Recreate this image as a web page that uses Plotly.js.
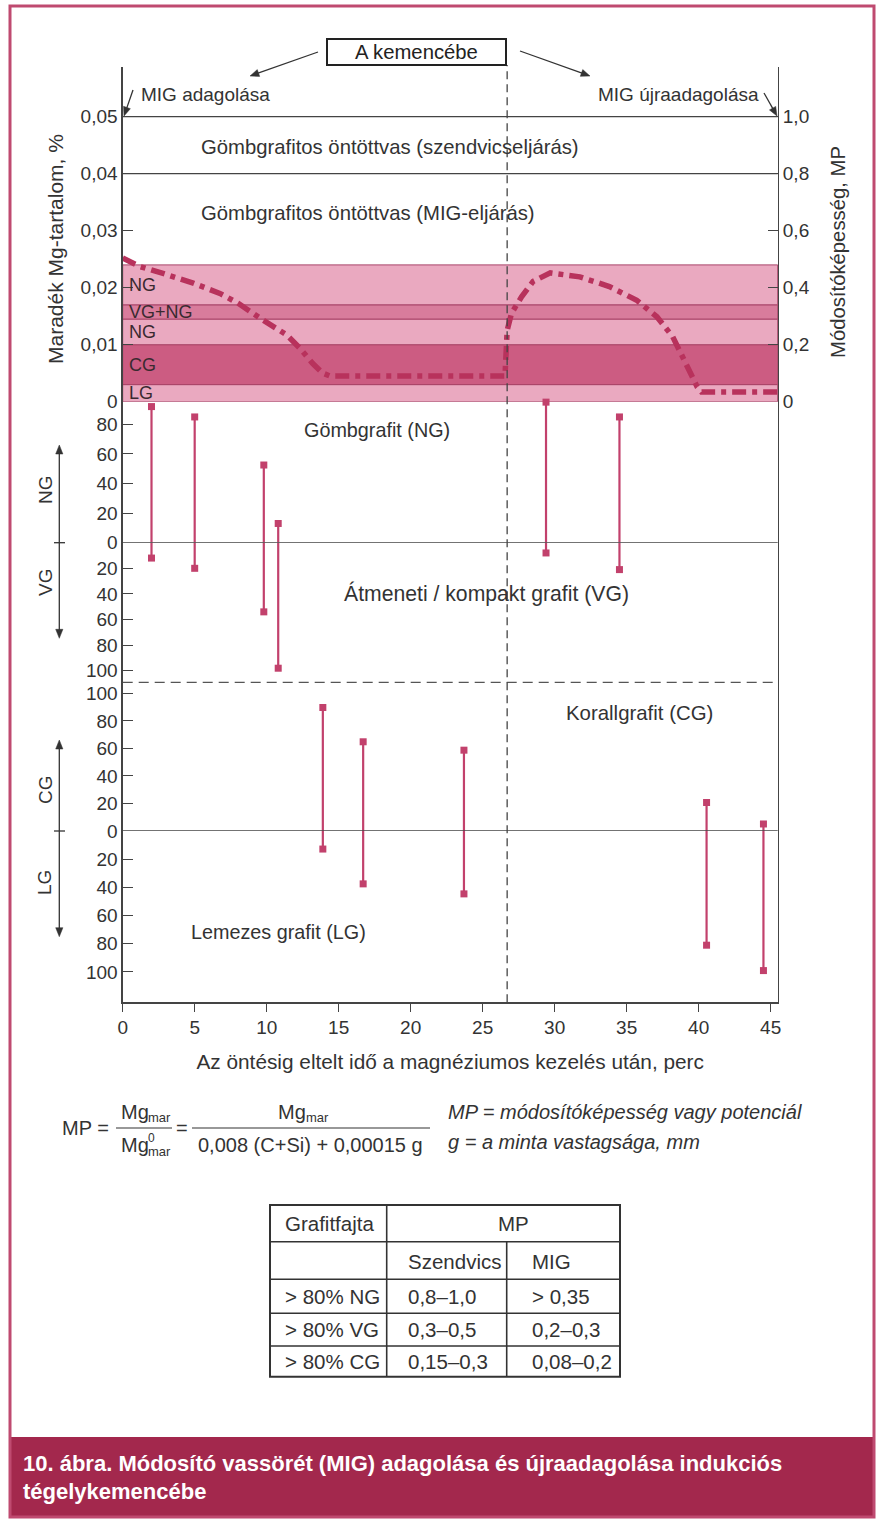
<!DOCTYPE html>
<html><head><meta charset="utf-8">
<script src="https://cdn.plot.ly/plotly-3.0.1.min.js"></script>
<style>html,body{margin:0;padding:0;background:#fff}#chart{width:881px;height:1520px}</style>
</head><body><div id="chart"></div>
<script>
// ---------- DATA ----------
const xTicks = [0,5,10,15,20,25,30,35,40,45];
const mgTickVals = [0,0.01,0.02,0.03,0.04,0.05];
const mgTickText = ['0','0,01','0,02','0,03','0,04','0,05'];
const mpTickVals = [0,0.2,0.4,0.6,0.8,1.0];
const mpTickText = ['0','0,2','0,4','0,6','0,8','1,0'];
const pctTicksUp = [0,20,40,60,80];
const pctTicksUp2 = [0,20,40,60,80,100];
const pctTicksDown = [20,40,60,80,100];

const levelSzendvics = 0.05;   // upper limit lines
const levelMIG = 0.04;
const reAddTime = 26.7;        // MIG re-addition (vertical dashed)

const bandEdges = [0,0.003,0.01,0.0145,0.017,0.024];
const bandLabels = ['LG','CG','NG','VG+NG','NG'];

const curveTime = [0,1.2,2.8,4.9,6.75,8.0,9.75,11.4,12.3,13.2,13.9,14.4,26.55,26.6,26.7,27.0,27.7,28.5,29.7,31.75,33.8,35.7,37.1,38.2,38.7,39.2,39.9,40.2,45.45];
const curveMg   = [0.0252,0.0237,0.0225,0.0208,0.0190,0.0173,0.0143,0.0117,0.0094,0.0067,0.0050,0.0045,0.0045,0.0080,0.0125,0.0155,0.0184,0.0211,0.0226,0.0219,0.0202,0.0178,0.0149,0.0114,0.0088,0.0061,0.0026,0.0017,0.0017];

// NG / VG panel (percent)
const midTime = [2.0,5.0,9.8,10.8,29.4,34.5];
const midNG   = [92,85,52.5,13,95,85];
const midVG   = [12,20,54,98,8,21];
// CG / LG panel (percent)
const botTime = [13.9,16.7,23.7,40.55,44.5];
const botCG   = [89.7,64.8,58.7,20.7,5.1];
const botLG   = [12.8,37.5,44.6,81,99];

const tableHead = ['Grafitfajta','MP'];
const tableSubHead = ['','Szendvics','MIG'];
const graphiteTypes = ['> 80% NG','> 80% VG','> 80% CG'];
const mpSzendvics = ['0,8–1,0','0,3–0,5','0,15–0,3'];
const mpMIG = ['> 0,35','0,2–0,3','0,08–0,2'];

// ---------- STYLE / LAYOUT HELPERS ----------
const W = 881, H = 1520;
const X = p => p / W;
const Y = p => 1 - p / H;
const FONT = 'Liberation Sans, Arial, sans-serif';
const TXT = '#333';
const CRIMSON = '#b8325c';
const BAR = '#c2416c';
const bandColors = ['#eaa9c0','#cc5c82','#eaa9c0','#d87c9c','#eaa9c0'];
const RS = 20.3; // region text size

function stems(xs, vs, yax){
  const x=[], y=[];
  xs.forEach((t,i)=>{ x.push(t,t,null); y.push(0,vs[i],null); });
  return [
    {x:x, y:y, yaxis:yax, mode:'lines', line:{color:BAR, width:2.2}, hoverinfo:'skip', cliponaxis:false},
    {x:xs, y:vs, yaxis:yax, mode:'markers', marker:{symbol:'square', size:7, color:BAR}, cliponaxis:false}
  ];
}

const traces = [];
traces.push({x:curveTime, y:curveMg, yaxis:'y', mode:'lines',
  line:{color:CRIMSON, width:5.5, dash:'14px,6px,5px,6px'}, cliponaxis:false});
traces.push({x:[null], y:[null], yaxis:'y2', mode:'lines', showlegend:false});
traces.push(...stems(midTime, midNG, 'y3'));
traces.push(...stems(midTime, midVG, 'y4'));
traces.push(...stems(botTime, botCG, 'y5'));
traces.push(...stems(botTime, botLG, 'y6'));

const axBase = {showline:true, linecolor:'#444', linewidth:1.3, showgrid:false, zeroline:false,
  ticks:'inside', ticklen:10, tickcolor:'#444', tickfont:{size:19, color:TXT}, fixedrange:true};

const shapes = [];
const ann = [];

// arrow helper (pixel coords -> paper), head at (hx,hy), tail at (tx,ty)
function arrowShapes(tx,ty,hx,hy){
  const dx=hx-tx, dy=hy-ty, L=Math.hypot(dx,dy), ux=dx/L, uy=dy/L;
  const hl=9, hw=3.6;
  const bx=hx-ux*hl, by=hy-uy*hl, nx=-uy, ny=ux;
  shapes.push({type:'line', xref:'paper', yref:'paper', x0:X(tx), y0:Y(ty), x1:X(bx+ux*2), y1:Y(by+uy*2), line:{color:'#333', width:1.3}});
  shapes.push({type:'path', xref:'paper', yref:'paper',
    path:`M ${X(hx)} ${Y(hy)} L ${X(bx+nx*hw)} ${Y(by+ny*hw)} L ${X(bx-nx*hw)} ${Y(by-ny*hw)} Z`,
    fillcolor:'#333', line:{color:'#333', width:0.5}});
}

// bands
for (let i=0;i<bandLabels.length;i++){
  shapes.push({type:'rect', xref:'x domain', yref:'y', x0:0, x1:1, y0:bandEdges[i], y1:bandEdges[i+1],
    fillcolor:bandColors[i], line:{color:'#a94468', width:1}, layer:'below'});
  ann.push({xref:'paper', yref:'y', x:X(127), y:(bandEdges[i]+bandEdges[i+1])/2, xanchor:'left', yanchor:'middle',
    text:bandLabels[i], showarrow:false, font:{size:18, color:'#3a2a30'}});
}
// level lines
[levelSzendvics, levelMIG].forEach(v=>shapes.push({type:'line', xref:'x domain', yref:'y', x0:0, x1:1, y0:v, y1:v, line:{color:'#444', width:1.3}}));
// zero lines of the percentage panels
shapes.push({type:'line', xref:'x domain', yref:'y3', x0:0, x1:1, y0:0, y1:0, line:{color:'#444', width:1.3}});
shapes.push({type:'line', xref:'x domain', yref:'y5', x0:0, x1:1, y0:0, y1:0, line:{color:'#444', width:1.3}});
// dashed separator between panels
shapes.push({type:'line', xref:'x domain', yref:'paper', x0:0, x1:1, y0:Y(682.3), y1:Y(682.3), line:{color:'#555', width:1.3, dash:'10px,6px'}});
// vertical dashed line at re-addition
shapes.push({type:'line', xref:'x', yref:'paper', x0:reAddTime, x1:reAddTime, y0:Y(1002.3), y1:Y(65), line:{color:'#444', width:1.3, dash:'8px,5px'}});
// "A kemencébe" box
shapes.push({type:'rect', xref:'paper', yref:'paper', x0:X(327), x1:X(506), y0:Y(65), y1:Y(39), line:{color:'#222', width:2}, fillcolor:'#fff'});
ann.push({xref:'paper', yref:'paper', x:X(416.5), y:Y(52), xanchor:'center', yanchor:'middle', text:'A kemencébe', showarrow:false, font:{size:20.3, color:'#222'}});
// arrows
arrowShapes(318,52,250,76);
arrowShapes(520,51,590,76);
arrowShapes(133,90,124,116);
arrowShapes(764,93,777,116);
ann.push({xref:'paper', yref:'paper', x:X(139), y:Y(94), xanchor:'left', yanchor:'middle', text:'MIG adagolása', showarrow:false, font:{size:19, color:TXT}});
ann.push({xref:'paper', yref:'paper', x:X(761), y:Y(94), xanchor:'right', yanchor:'middle', text:'MIG újraadagolása', showarrow:false, font:{size:19, color:TXT}});
// region texts
const reg = (px,py,t,sz)=>({xref:'paper', yref:'paper', x:X(px), y:Y(py), xanchor:'left', yanchor:'middle', text:t, showarrow:false, font:{size:sz||RS, color:TXT}});
ann.push(reg(199,147,'Gömbgrafitos öntöttvas (szendvicseljárás)'));
ann.push(reg(199,213,'Gömbgrafitos öntöttvas (MIG-eljárás)'));
ann.push(reg(302,430,'Gömbgrafit (NG)',19.8));
ann.push(reg(342,593,'Átmeneti / kompakt grafit (VG)',21.2));
ann.push(reg(564,713,'Korallgrafit (CG)',20.4));
ann.push(reg(189,932,'Lemezes grafit (LG)',19.8));
// axis titles (rotated)
ann.push({xref:'paper', yref:'paper', x:X(55), y:Y(249), xanchor:'center', yanchor:'middle', text:'Maradék Mg-tartalom, %', textangle:-90, showarrow:false, font:{size:21, color:TXT}});
ann.push({xref:'paper', yref:'paper', x:X(838), y:Y(252), xanchor:'center', yanchor:'middle', text:'Módosítóképesség, MP', textangle:-90, showarrow:false, font:{size:20.3, color:TXT}});
// side double arrows
const sideArrow = (zero, up, down, labUp, labDown, yUp, yDown)=>{
  arrowShapes(59.3, zero, 59.3, up);
  arrowShapes(59.3, zero, 59.3, down);
  shapes.push({type:'line', xref:'paper', yref:'paper', x0:X(54), x1:X(65), y0:Y(zero), y1:Y(zero), line:{color:'#333', width:1.3}});
  ann.push({xref:'paper', yref:'paper', x:X(45), y:Y(yUp), xanchor:'center', yanchor:'middle', text:labUp, textangle:-90, showarrow:false, font:{size:19, color:TXT}});
  ann.push({xref:'paper', yref:'paper', x:X(45), y:Y(yDown), xanchor:'center', yanchor:'middle', text:labDown, textangle:-90, showarrow:false, font:{size:19, color:TXT}});
};
sideArrow(542.7, 445, 638.3, 'NG', 'VG', 490, 583);
sideArrow(831, 740, 936.7, 'CG', 'LG', 790, 883);

// formula
const ftxt = (px,py,t,anchor,ital,sz)=>({xref:'paper', yref:'paper', x:X(px), y:Y(py), xanchor:anchor||'center', yanchor:'middle', text:t, showarrow:false,
  font:{size:sz||20, color:TXT, style: ital?'italic':'normal'}});
ann.push(ftxt(60,1128,'MP =','left'));
ann.push(ftxt(119,1112,'Mg','left'));
ann.push(ftxt(146,1117,'mar','left',false,13));
ann.push(ftxt(119,1145,'Mg','left'));
ann.push(ftxt(146,1138,'0','left',false,12));
ann.push(ftxt(146,1151,'mar','left',false,13));
ann.push(ftxt(182,1128,'=','center'));
ann.push(ftxt(308,1112,'Mg','right'));
ann.push(ftxt(304,1117,'mar','left',false,13));
ann.push(ftxt(310,1145,'0,008 (C+Si) + 0,00015 g'));
shapes.push({type:'line', xref:'paper', yref:'paper', x0:X(116), x1:X(172), y0:Y(1128), y1:Y(1128), line:{color:'#333', width:1.2}});
shapes.push({type:'line', xref:'paper', yref:'paper', x0:X(192), x1:X(430), y0:Y(1128), y1:Y(1128), line:{color:'#333', width:1.2}});
ann.push(ftxt(446,1112,'MP = módosítóképesség vagy potenciál','left',true));
ann.push(ftxt(446,1142,'g = a minta vastagsága, mm','left',true));

// table
const tL=270, tC1=386.7, tC2=506.7, tR=620;
const tRows=[1205,1241.7,1279.3,1313.3,1346,1376.7];
shapes.push({type:'rect', xref:'paper', yref:'paper', x0:X(tL), x1:X(tR), y0:Y(tRows[5]), y1:Y(tRows[0]), line:{color:'#333', width:2}});
for (let r=1;r<5;r++) shapes.push({type:'line', xref:'paper', yref:'paper', x0:X(tL), x1:X(tR), y0:Y(tRows[r]), y1:Y(tRows[r]), line:{color:'#333', width:1.6}});
shapes.push({type:'line', xref:'paper', yref:'paper', x0:X(tC1), x1:X(tC1), y0:Y(tRows[5]), y1:Y(tRows[0]), line:{color:'#333', width:1.6}});
shapes.push({type:'line', xref:'paper', yref:'paper', x0:X(tC2), x1:X(tC2), y0:Y(tRows[5]), y1:Y(tRows[1]), line:{color:'#333', width:1.6}});
const cell=(px,py,t,anchor)=>({xref:'paper', yref:'paper', x:X(px), y:Y(py), xanchor:anchor||'left', yanchor:'middle', text:t, showarrow:false, font:{size:20.5, color:TXT}});
ann.push(cell(283,1223,tableHead[0]));
ann.push(cell(513,1223,tableHead[1],'center'));
ann.push(cell(406,1261,tableSubHead[1]));
ann.push(cell(530,1261,tableSubHead[2]));
graphiteTypes.forEach((g,i)=>{
  const cy=(tRows[i+2]+tRows[i+3])/2;
  ann.push(cell(283,cy,g));
  ann.push(cell(406,cy,mpSzendvics[i]));
  ann.push(cell(530,cy,mpMIG[i]));
});

// frame and caption band
shapes.push({type:'rect', xref:'paper', yref:'paper', x0:X(10), x1:X(874), y0:Y(1517), y1:Y(1437), fillcolor:'#a3284d', line:{width:0}, layer:'below'});
shapes.push({type:'rect', xref:'paper', yref:'paper', x0:X(10), x1:X(874), y0:Y(1517), y1:Y(6), line:{color:'#bf4a70', width:3}});
ann.push({xref:'paper', yref:'paper', x:X(21), y:Y(1463), xanchor:'left', yanchor:'middle', showarrow:false,
  text:'<b>10. ábra. Módosító vassörét (MIG) adagolása és újraadagolása indukciós</b>', font:{size:22, color:'#fff'}});
ann.push({xref:'paper', yref:'paper', x:X(21), y:Y(1491), xanchor:'left', yanchor:'middle', showarrow:false,
  text:'<b>tégelykemencébe</b>', font:{size:22, color:'#fff'}});

const layout = {
  width:W, height:H, margin:{l:0,r:0,t:0,b:0}, paper_bgcolor:'#fff', plot_bgcolor:'rgba(0,0,0,0)',
  showlegend:false, separators:', ', font:{family:FONT, size:19, color:TXT},
  xaxis:{domain:[X(122.7),X(777.7)], range:[0,45.49], anchor:'y6', showline:true, linecolor:'#444', linewidth:1.3,
    showgrid:false, zeroline:false, ticks:'outside', ticklen:8, tickcolor:'#444', tickvals:xTicks,
    tickfont:{size:19, color:TXT}, fixedrange:true,
    title:{text:'Az öntésig eltelt idő a magnéziumos kezelés után, perc', font:{size:20.8, color:TXT}, standoff:17}},
  yaxis:Object.assign({}, axBase, {domain:[Y(401.7),Y(67)], range:[0,0.05872], anchor:'x', tickvals:mgTickVals, ticktext:mgTickText}),
  yaxis2:Object.assign({}, axBase, {overlaying:'y', side:'right', anchor:'x', range:[0,1.1744], tickvals:mpTickVals, ticktext:mpTickText}),
  yaxis3:Object.assign({}, axBase, {domain:[Y(542.7),Y(401.7)], range:[0,95.3], anchor:'x', mirror:true, tickvals:pctTicksUp}),
  yaxis4:Object.assign({}, axBase, {domain:[Y(682.3),Y(542.7)], range:[109,0], anchor:'x', mirror:true, tickvals:pctTicksDown}),
  yaxis5:Object.assign({}, axBase, {domain:[Y(831),Y(682.3)], range:[0,108], anchor:'x', mirror:true, tickvals:pctTicksUp2}),
  yaxis6:Object.assign({}, axBase, {domain:[Y(1002.3),Y(831)], range:[121.5,0], anchor:'x', mirror:true, tickvals:pctTicksDown}),
  shapes:shapes, annotations:ann
};
Plotly.newPlot('chart', traces, layout, {staticPlot:true, displayModeBar:false});
</script></body></html>
